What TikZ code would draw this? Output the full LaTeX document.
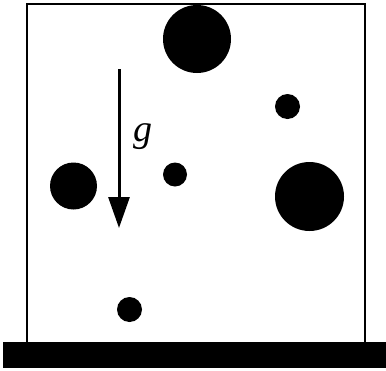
\documentclass[tikz,border=0pt]{standalone}
\usepackage{fontspec}
\setmainfont{Liberation Serif}
\usetikzlibrary{arrows.meta}
\begin{document}
\begin{tikzpicture}[x=1pt,y=-1pt,
  ball/.style={fill=black},
  wall/.style={draw=black,line width=2pt}]
\useasboundingbox (0,0) rectangle (386,370);
% container
\draw[wall] (26.5,342) -- (26.5,4) -- (364.5,4) -- (364.5,342);
% base bar
\fill[black] (3,342) rectangle (386,368);
% balls
\fill[ball] (197,39) circle (34);
\fill[ball] (287.5,106.5) circle (12.5);
\fill[ball] (73.5,186) circle (23.5);
\fill[ball] (175,174.5) circle (12);
\fill[ball] (309.5,196.5) circle (34.5);
\fill[ball] (129.5,309.5) circle (12.5);
% gravity arrow
\coordinate (gtop) at (119,69);
\coordinate (gbot) at (119,228);
\draw[line width=3pt,-{Triangle[length=31pt,width=21pt]}] (gtop) -- (gbot);
\node[draw=none] (glab) at (143,137) {\fontsize{38}{40}\selectfont\itshape g};
\end{tikzpicture}
\end{document}
